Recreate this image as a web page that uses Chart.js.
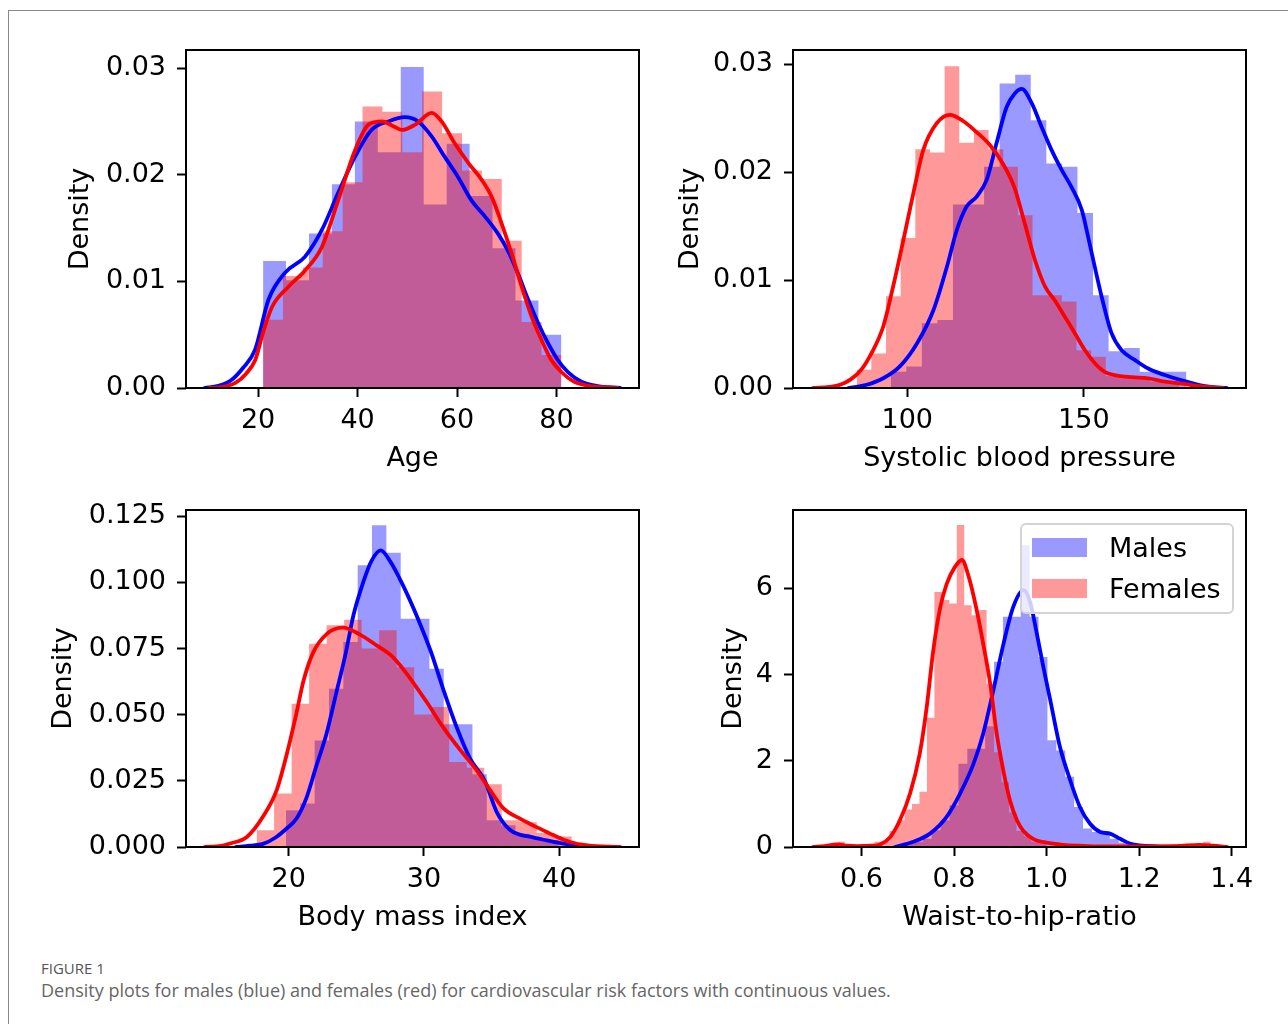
<!DOCTYPE html>
<html>
<head>
<meta charset="utf-8">
<script src="https://cdn.jsdelivr.net/npm/chart.js@4/dist/chart.umd.min.js"></script>
<style>
html,body{margin:0;padding:0;background:#fff;width:1288px;height:1024px;overflow:hidden;}
#frame{position:absolute;left:8px;top:10px;width:1300px;height:1030px;border-left:1px solid #888;border-top:1px solid #888;}
canvas{position:absolute;}
#legend{position:absolute;left:1020px;top:523px;width:214px;height:91px;box-sizing:border-box;border:2px solid #d4d4d4;border-radius:6px;background:rgba(255,255,255,0.8);font-family:'DejaVu Sans',sans-serif;font-size:27px;color:#000;}
.patch{position:absolute;left:10px;width:55px;height:19px;}
.ltext{position:absolute;left:87px;line-height:32px;white-space:nowrap;}
#figlabel{position:absolute;left:41px;top:958px;font-family:'Open Sans',sans-serif;font-size:15px;font-weight:500;color:#555;}
#caption{position:absolute;left:41px;top:978px;font-family:'Open Sans',sans-serif;font-size:18px;color:#666;white-space:nowrap;}
</style>
</head>
<body>
<div id="frame"></div>
<canvas id="cAge" width="595" height="438" style="left:60px;top:40px;"></canvas>
<canvas id="cSbp" width="592" height="438" style="left:670px;top:40px;"></canvas>
<canvas id="cBmi" width="612" height="437" style="left:43px;top:500px;"></canvas>
<canvas id="cWhr" width="549" height="437" style="left:713px;top:500px;"></canvas>
<div id="legend">
  <div class="patch" style="top:13px;background:rgba(0,0,255,0.4);"></div>
  <div class="ltext" style="top:7px;">Males</div>
  <div class="patch" style="top:54px;background:rgba(255,0,0,0.4);"></div>
  <div class="ltext" style="top:48px;">Females</div>
</div>
<div id="figlabel">FIGURE 1</div>
<div id="caption">Density plots for males (blue) and females (red) for cardiovascular risk factors with continuous values.</div>
<script>
// ---------- Age ----------
const ageXTicks = [20, 40, 60, 80];
const ageXTickLabels = ['20', '40', '60', '80'];
const ageYTicks = [0, 0.01, 0.02, 0.03];
const ageYTickLabels = ['0.00', '0.01', '0.02', '0.03'];
const ageMaleBinStart = 21, ageMaleBinWidth = 4.615;
const ageMaleHist = [0.0119, 0.0101, 0.0145, 0.0191, 0.0250, 0.0221, 0.0301, 0.0172, 0.0229, 0.0180, 0.0131, 0.0082, 0.0050];
const ageFemaleBinStart = 21, ageFemaleBinWidth = 4.0;
const ageFemaleHist = [0.0064, 0.0105, 0.0113, 0.0147, 0.0193, 0.0264, 0.0259, 0.0221, 0.0278, 0.0239, 0.0204, 0.0196, 0.0138, 0.0062, 0.0031];
const ageMaleKdeX = [9.3, 12, 14.5, 17, 19.4, 22.1, 25.4, 29.4, 32.8, 36.1, 39.5, 42.8, 46.2, 49.5, 52.2, 54.9, 57.5, 60.2, 62.9, 65.6, 68.2, 70.2, 72.2, 74.3, 76.3, 78.3, 80.3, 82.3, 85, 88, 92.8];
const ageMaleKdeY = [0, 0.0002, 0.0007, 0.0019, 0.0036, 0.0083, 0.0108, 0.0123, 0.0148, 0.0183, 0.0217, 0.0242, 0.0250, 0.0254, 0.0250, 0.0236, 0.0217, 0.0198, 0.0176, 0.0161, 0.0145, 0.0129, 0.0108, 0.0083, 0.0061, 0.0042, 0.0026, 0.0015, 0.0006, 0.0002, 0];
const ageFemaleKdeX = [10.3, 13, 15.5, 17.5, 19.4, 21, 22.8, 26.1, 29.4, 32.8, 36.1, 39.5, 42.2, 44.9, 47, 48.9, 51.6, 54.9, 56.9, 59.6, 62.3, 65, 67, 69, 71, 73, 75, 77, 79, 81, 83.5, 86.5, 92.2];
const ageFemaleKdeY = [0, 0.0001, 0.0005, 0.0013, 0.0026, 0.0052, 0.0076, 0.0095, 0.0110, 0.0132, 0.0176, 0.0223, 0.0247, 0.0250, 0.0246, 0.0242, 0.0247, 0.0258, 0.0250, 0.0229, 0.0211, 0.0195, 0.0179, 0.0154, 0.0126, 0.0095, 0.0067, 0.0045, 0.0026, 0.0015, 0.0006, 0.0002, 0];

// ---------- Systolic blood pressure ----------
const sbpXTicks = [100, 150];
const sbpXTickLabels = ['100', '150'];
const sbpYTicks = [0, 0.01, 0.02, 0.03];
const sbpYTickLabels = ['0.00', '0.01', '0.02', '0.03'];
const sbpMaleBinStart = 95.3, sbpMaleBinWidth = 4.407;
const sbpMaleHist = [0.0015, 0.0020, 0.0060, 0.0063, 0.0170, 0.0170, 0.0205, 0.0282, 0.0290, 0.0248, 0.0208, 0.0205, 0.0162, 0.0086, 0.0034, 0.0037, 0.0015, 0.0015, 0.0015];
const sbpFemaleBinStart = 85.68, sbpFemaleBinWidth = 4.149;
const sbpFemaleHist = [0.0017, 0.0032, 0.0085, 0.0139, 0.0221, 0.0218, 0.0298, 0.0227, 0.0239, 0.0221, 0.0205, 0.0160, 0.0086, 0.0086, 0.0080, 0.0035, 0.0029, 0.0011, 0.0009, 0.0009, 0.0006, 0.0006];
const sbpMaleKdeX = [83.3, 88.5, 93.2, 97.9, 102.7, 107.4, 111.2, 114, 116.8, 119.6, 122.5, 125.3, 128.1, 130.5, 132.4, 135.2, 138, 140.9, 143.7, 146.5, 149.4, 151.2, 153.1, 155, 157.8, 160.7, 164.4, 168.2, 172.9, 177.7, 182.4, 186, 190.4];
const sbpMaleKdeY = [0, 0.0003, 0.0009, 0.0020, 0.0041, 0.0072, 0.0112, 0.0146, 0.0168, 0.0177, 0.0193, 0.0227, 0.0260, 0.0273, 0.0277, 0.0264, 0.0242, 0.0220, 0.0202, 0.0186, 0.0165, 0.0140, 0.0112, 0.0085, 0.0051, 0.0035, 0.0026, 0.0018, 0.0012, 0.0007, 0.0003, 0.0001, 0];
const sbpFemaleKdeX = [73.4, 78, 81, 84, 87, 90, 93.2, 96, 98.9, 101.7, 104.5, 108.3, 112.1, 115.9, 119.6, 123.4, 127.2, 130.3, 133.3, 136.1, 139, 141.8, 144.6, 147.4, 150.3, 153.1, 155.9, 158.7, 163.5, 168.2, 172.9, 177.7, 182, 189.4];
const sbpFemaleKdeY = [0, 0.0001, 0.0003, 0.0008, 0.0017, 0.0033, 0.0057, 0.0094, 0.0137, 0.0180, 0.0220, 0.0245, 0.0253, 0.0247, 0.0237, 0.0225, 0.0207, 0.0186, 0.0152, 0.0119, 0.0094, 0.0081, 0.0066, 0.0051, 0.0035, 0.0023, 0.0015, 0.0012, 0.0010, 0.0009, 0.0006, 0.0004, 0.0002, 0];

// ---------- Body mass index ----------
const bmiXTicks = [20, 30, 40];
const bmiXTickLabels = ['20', '30', '40'];
const bmiYTicks = [0, 0.025, 0.05, 0.075, 0.1, 0.125];
const bmiYTickLabels = ['0.000', '0.025', '0.050', '0.075', '0.100', '0.125'];
const bmiMaleBinStart = 19.79, bmiMaleBinWidth = 1.061;
const bmiMaleHist = [0.0139, 0.0164, 0.0403, 0.0598, 0.0775, 0.1065, 0.1216, 0.1112, 0.0863, 0.0863, 0.0674, 0.0464, 0.0464, 0.0275, 0.0101, 0.0082, 0.0050, 0.0030, 0.0025];
const bmiFemaleBinStart = 17.62, bmiFemaleBinWidth = 1.295;
const bmiFemaleHist = [0.0063, 0.0202, 0.0542, 0.0768, 0.0838, 0.0859, 0.0750, 0.0819, 0.0680, 0.0501, 0.0529, 0.0321, 0.0300, 0.0237, 0.0101, 0.0094, 0.0053, 0.0040];
const bmiMaleKdeX = [16.1, 17.1, 18.1, 19.0, 19.8, 20.6, 21.3, 22.0, 22.8, 23.5, 24.2, 24.8, 25.5, 26.1, 26.8, 27.5, 28.2, 28.9, 29.6, 30.5, 31.4, 32.4, 33.4, 34.5, 35.4, 36.4, 37.9, 39.1, 40.3, 41.6, 42.5];
const bmiMaleKdeY = [0, 0.0005, 0.0012, 0.0035, 0.0068, 0.0110, 0.0185, 0.0300, 0.0430, 0.0580, 0.0730, 0.0880, 0.1000, 0.1080, 0.1121, 0.1080, 0.1015, 0.0940, 0.0857, 0.0740, 0.0600, 0.0455, 0.0335, 0.0250, 0.0130, 0.0063, 0.0038, 0.0025, 0.0013, 0.0003, 0];
const bmiFemaleKdeX = [13.8, 15.0, 15.65, 16.9, 18.1, 19.1, 19.8, 20.5, 21.1, 21.8, 22.8, 24.0, 25.3, 26.5, 27.7, 29.0, 30.2, 31.4, 32.7, 33.9, 34.9, 35.9, 37.1, 38.3, 39.6, 40.8, 42.1, 44.5];
const bmiFemaleKdeY = [0, 0.0004, 0.0013, 0.0038, 0.0115, 0.0214, 0.0340, 0.0490, 0.0630, 0.0735, 0.0805, 0.0829, 0.0802, 0.0762, 0.0718, 0.0636, 0.0548, 0.0454, 0.0365, 0.0290, 0.0214, 0.0145, 0.0107, 0.0076, 0.0044, 0.0019, 0.0006, 0];

// ---------- Waist-to-hip-ratio ----------
const whrXTicks = [0.6, 0.8, 1.0, 1.2, 1.4];
const whrXTickLabels = ['0.6', '0.8', '1.0', '1.2', '1.4'];
const whrYTicks = [0, 2, 4, 6];
const whrYTickLabels = ['0', '2', '4', '6'];
const whrMaleBinStart = 0.6748, whrMaleBinWidth = 0.01924;
const whrMaleHist = [0.04, 0.08, 0.12, 0.19, 0.39, 0.62, 0.97, 1.93, 2.28, 2.28, 2.80, 4.30, 5.34, 5.34, 7.00, 5.34, 4.41, 2.48, 2.24, 1.63, 0.93, 0.43, 0.35, 0.35, 0.19, 0.10];
const whrFemaleBinStart = 0.548, whrFemaleBinWidth = 0.01612;
const whrFemaleHist = [0.12, 0, 0, 0, 0, 0.12, 0.12, 0.37, 0.62, 0.87, 1.00, 1.28, 3.00, 5.92, 5.73, 5.65, 7.47, 5.61, 5.38, 5.50, 3.79, 2.20, 1.50, 0.80, 0.37, 0.25, 0.12, 0.12, 0, 0, 0, 0, 0, 0, 0, 0, 0, 0, 0, 0, 0, 0, 0, 0, 0, 0, 0, 0, 0, 0.12];
const whrMaleKdeX = [0.6724, 0.712, 0.748, 0.784, 0.813, 0.842, 0.863, 0.885, 0.907, 0.928, 0.950, 0.964, 0.979, 0.993, 1.008, 1.029, 1.051, 1.072, 1.094, 1.116, 1.137, 1.159, 1.180, 1.238, 1.310, 1.350];
const whrMaleKdeY = [0, 0.12, 0.31, 0.70, 1.24, 1.93, 2.63, 3.64, 4.72, 5.57, 5.96, 5.70, 4.95, 4.18, 3.41, 2.32, 1.55, 0.93, 0.54, 0.35, 0.31, 0.19, 0.08, 0.015, 0.005, 0];
const whrFemaleKdeX = [0.496, 0.520, 0.546, 0.570, 0.590, 0.620, 0.640, 0.662, 0.683, 0.705, 0.726, 0.741, 0.755, 0.770, 0.784, 0.802, 0.817, 0.831, 0.849, 0.863, 0.878, 0.892, 0.907, 0.921, 0.936, 0.950, 0.971, 1.000, 1.036, 1.072, 1.120, 1.200, 1.280, 1.330, 1.360, 1.390];
const whrFemaleKdeY = [0, 0.02, 0.06, 0.03, 0.02, 0.03, 0.06, 0.23, 0.62, 1.24, 2.17, 3.25, 4.55, 5.55, 6.10, 6.50, 6.66, 6.30, 5.50, 4.72, 3.80, 2.65, 1.75, 1.08, 0.62, 0.37, 0.19, 0.10, 0.05, 0.03, 0.015, 0.015, 0.02, 0.05, 0.03, 0];

// ---------- helpers ----------
function histPoints(start, width, heights) {
  const pts = heights.map((h, i) => ({x: start + i * width, y: h}));
  pts.push({x: start + heights.length * width, y: 0});
  return pts;
}
function curvePoints(xs, ys) { return xs.map((x, i) => ({x: x, y: ys[i]})); }

const FONT = {family: "'DejaVu Sans', sans-serif", size: 27};
const GRID = {drawOnChartArea: false, drawTicks: true, tickLength: 9, tickWidth: 2, tickColor: '#000'};

const framePlugin = {
  id: 'axesFrame',
  afterDatasetsDraw(chart) {
    const {ctx, chartArea: a} = chart;
    ctx.save();
    ctx.strokeStyle = '#000';
    ctx.lineWidth = 2;
    ctx.strokeRect(a.left, a.top, a.right - a.left, a.bottom - a.top);
    ctx.restore();
  }
};

function makePanel(p) {
  const histDs = (label, pts, color, order) => ({
    label, data: pts, stepped: 'before', fill: 'origin', backgroundColor: color,
    borderColor: 'rgba(0,0,0,0)', borderWidth: 0, pointRadius: 0, order
  });
  const kdeDs = (label, pts, color, order) => ({
    label, data: pts, borderColor: color, borderWidth: 3.8, pointRadius: 0, fill: false,
    cubicInterpolationMode: 'monotone', borderJoinStyle: 'round', borderCapStyle: 'round', order
  });
  new Chart(document.getElementById(p.id), {
    type: 'line',
    data: {
      datasets: [
        histDs('Males', histPoints(p.mStart, p.mWidth, p.mHist), 'rgba(0,0,255,0.4)', 3),
        histDs('Females', histPoints(p.fStart, p.fWidth, p.fHist), 'rgba(255,0,0,0.4)', 2),
        kdeDs('Males KDE', curvePoints(p.mKx, p.mKy), '#0000ff', 1),
        kdeDs('Females KDE', curvePoints(p.fKx, p.fKy), '#ff0000', 0)
      ]
    },
    options: {
      responsive: false, animation: false, devicePixelRatio: 1,
      layout: {padding: {left: 0, top: 10, right: 16, bottom: 0}},
      plugins: {legend: {display: false}, tooltip: {enabled: false}},
      scales: {
        x: {
          type: 'linear', min: p.xMin, max: p.xMax,
          afterBuildTicks: s => { s.ticks = p.xTicks.map(v => ({value: v})); },
          afterFit: s => { s.height = 90; s.paddingLeft = 0; s.paddingRight = 0; },
          ticks: {font: FONT, color: '#000', padding: 8, maxRotation: 0, minRotation: 0, autoSkip: false,
                  callback: (v, i) => p.xLabels[i]},
          grid: GRID,
          border: {display: false},
          title: {display: true, text: p.xTitle, font: FONT, color: '#000', padding: {top: 0, bottom: 3}}
        },
        y: {
          type: 'linear', min: 0, max: p.yMax,
          afterBuildTicks: s => { s.ticks = p.yTicks.map(v => ({value: v})); },
          afterFit: s => { s.width = p.yWidth; s.paddingTop = 0; s.paddingBottom = 0; },
          ticks: {font: FONT, color: '#000', padding: 11, autoSkip: false, callback: (v, i) => p.yLabels[i]},
          grid: GRID,
          border: {display: false},
          title: {display: true, text: 'Density', font: FONT, color: '#000', padding: {top: 5, bottom: 0}}
        }
      }
    },
    plugins: [framePlugin]
  });
}

makePanel({id: 'cAge', xMin: 5.5, xMax: 96.6, yMax: 0.0317, yWidth: 126,
  xTicks: ageXTicks, xLabels: ageXTickLabels, yTicks: ageYTicks, yLabels: ageYTickLabels, xTitle: 'Age',
  mStart: ageMaleBinStart, mWidth: ageMaleBinWidth, mHist: ageMaleHist,
  fStart: ageFemaleBinStart, fWidth: ageFemaleBinWidth, fHist: ageFemaleHist,
  mKx: ageMaleKdeX, mKy: ageMaleKdeY, fKx: ageFemaleKdeX, fKy: ageFemaleKdeY});

makePanel({id: 'cSbp', xMin: 67.65, xMax: 195.9, yMax: 0.0313, yWidth: 123,
  xTicks: sbpXTicks, xLabels: sbpXTickLabels, yTicks: sbpYTicks, yLabels: sbpYTickLabels, xTitle: 'Systolic blood pressure',
  mStart: sbpMaleBinStart, mWidth: sbpMaleBinWidth, mHist: sbpMaleHist,
  fStart: sbpFemaleBinStart, fWidth: sbpFemaleBinWidth, fHist: sbpFemaleHist,
  mKx: sbpMaleKdeX, mKy: sbpMaleKdeY, fKx: sbpFemaleKdeX, fKy: sbpFemaleKdeY});

makePanel({id: 'cBmi', xMin: 12.4, xMax: 45.9, yMax: 0.1274, yWidth: 143,
  xTicks: bmiXTicks, xLabels: bmiXTickLabels, yTicks: bmiYTicks, yLabels: bmiYTickLabels, xTitle: 'Body mass index',
  mStart: bmiMaleBinStart, mWidth: bmiMaleBinWidth, mHist: bmiMaleHist,
  fStart: bmiFemaleBinStart, fWidth: bmiFemaleBinWidth, fHist: bmiFemaleHist,
  mKx: bmiMaleKdeX, mKy: bmiMaleKdeY, fKx: bmiFemaleKdeX, fKy: bmiFemaleKdeY});

makePanel({id: 'cWhr', xMin: 0.452, xMax: 1.431, yMax: 7.82, yWidth: 80,
  xTicks: whrXTicks, xLabels: whrXTickLabels, yTicks: whrYTicks, yLabels: whrYTickLabels, xTitle: 'Waist-to-hip-ratio',
  mStart: whrMaleBinStart, mWidth: whrMaleBinWidth, mHist: whrMaleHist,
  fStart: whrFemaleBinStart, fWidth: whrFemaleBinWidth, fHist: whrFemaleHist,
  mKx: whrMaleKdeX, mKy: whrMaleKdeY, fKx: whrFemaleKdeX, fKy: whrFemaleKdeY});
</script>
</body>
</html>
